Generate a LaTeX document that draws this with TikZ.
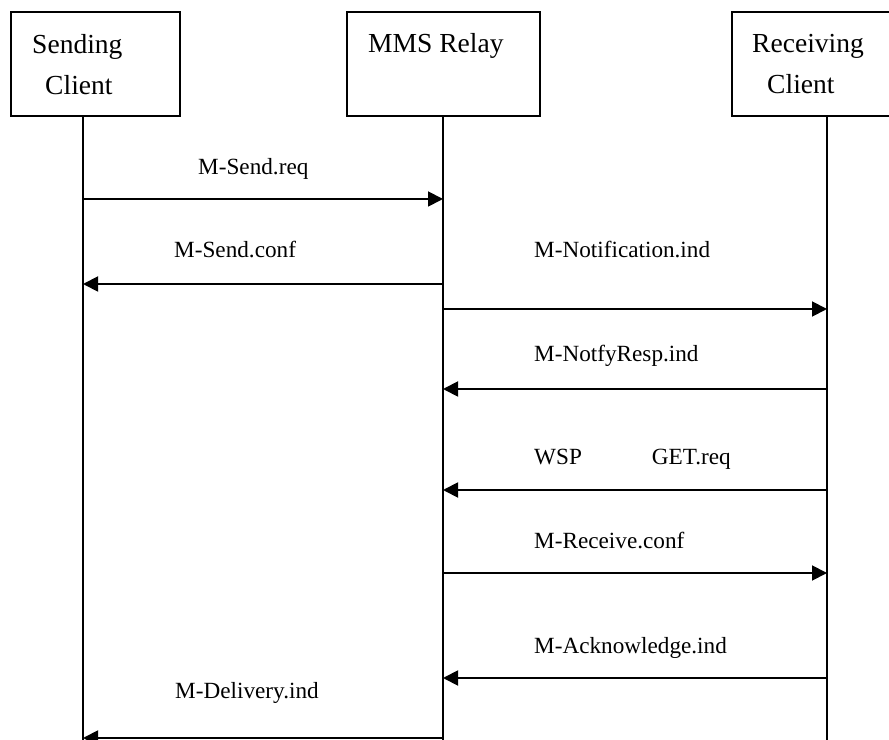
\documentclass[tikz,border=0pt]{standalone}
\usepackage{fontspec}
\setmainfont{Liberation Serif}
\usetikzlibrary{arrows.meta, positioning}

\begin{document}
\begin{tikzpicture}[
    x=0.03cm, y=-0.03cm,
    box/.style={draw, line width=1.4pt, minimum height=3.12cm, inner sep=0pt},
    head/.style={anchor=base west, inner sep=0pt, font=\fontsize{23.5}{28}\selectfont},
    lbl/.style={anchor=base west, inner sep=0pt, font=\fontsize{19.8}{24}\selectfont},
    life/.style={line width=2.4pt},
    msg/.style={-{Triangle[length=0.45cm, width=0.45cm]}, line width=1.6pt}
]
    \useasboundingbox (0,0) rectangle (889,740);

    % participants
    \node[box, minimum width=5.07cm] (sender) at (95.5,64) {};
    \node[box, minimum width=5.79cm] (relay) at (443.5,64) {};
    \node[box, minimum width=5.04cm] (receiver) at (816,64) {};

    \node[head] (sender1) at (32,54) {Sending};
    \node[head] (sender2) at (45,95) {Client};
    \node[head] (relay1) at (368,53) {MMS Relay};
    \node[head] (receiver1) at (752,53) {Receiving};
    \node[head] (receiver2) at (767,94) {Client};

    % lifelines
    \coordinate (s-top) at (83,116);
    \coordinate (r-top) at (443,116);
    \coordinate (c-top) at (827,116);
    \coordinate (s-end) at (83,745);
    \coordinate (r-end) at (443,745);
    \coordinate (c-end) at (827,745);

    \draw[life] (s-top) -- (s-end);
    \draw[life] (r-top) -- (r-end);
    \draw[life] (c-top) -- (c-end);

    \foreach \n/\yy in {1/199,2/284,3/309,4/389,5/490,6/573,7/678,8/738}{
        \coordinate (s\n) at (s-top |- 0,\yy);
        \coordinate (r\n) at (r-top |- 0,\yy);
        \coordinate (c\n) at (c-top |- 0,\yy);
    }

    % messages
    \draw[msg] (s1) -- (r1);
    \draw[msg] (r2) -- (s2);
    \draw[msg] (r3) -- (c3);
    \draw[msg] (c4) -- (r4);
    \draw[msg] (c5) -- (r5);
    \draw[msg] (r6) -- (c6);
    \draw[msg] (c7) -- (r7);
    \draw[msg] (r8) -- (s8);

    \node[lbl] (sendreq) at (198,175) {M-Send.req};
    \node[lbl] (sendconf) at (174,258) {M-Send.conf};
    \node[lbl] (notifind) at (534,258) {M-Notification.ind};
    \node[lbl] (notifyresp) at (534,362) {M-NotfyResp.ind};
    \node[lbl] (getreq) at (534,465) {WSP\hspace{2.1cm}GET.req};
    \node[lbl] (recvconf) at (534,548) {M-Receive.conf};
    \node[lbl] (ackind) at (534,653) {M-Acknowledge.ind};
    \node[lbl] (delivind) at (175,698) {M-Delivery.ind};
\end{tikzpicture}
\end{document}
